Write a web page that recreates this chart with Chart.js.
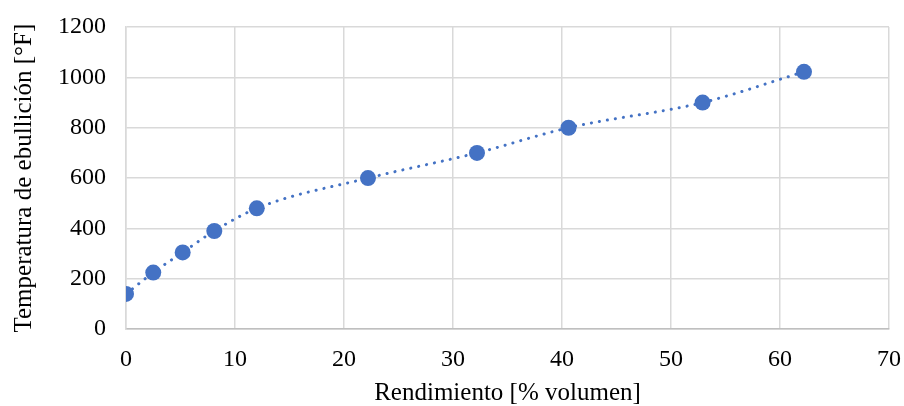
<!DOCTYPE html>
<html>
<head>
<meta charset="utf-8">
<script src="https://cdn.jsdelivr.net/npm/chart.js@4/dist/chart.umd.min.js"></script>
<style>
  html, body { margin: 0; padding: 0; background: #fff; }
  #wrap { width: 904px; height: 406px; }
</style>
</head>
<body>
<div id="wrap"><canvas id="chartRend"></canvas></div>
<script>
// rendimiento [% volumen] vs temperatura de ebullición [°F]
const rendimiento = [0.0, 2.5, 5.2, 8.1, 12.0, 22.2, 32.2, 40.6, 52.9, 62.2];
const temperatura = [140, 225, 305, 390, 480, 600, 700, 800, 900, 1022];
const xTicks = [0, 10, 20, 30, 40, 50, 60, 70];
const yTicks = [0, 200, 400, 600, 800, 1000, 1200];

const points = rendimiento.map((x, i) => ({ x: x, y: temperatura[i] }));
const azul = '#4472c4';
const fuente = 'Liberation Serif, Times New Roman, serif';

const config = {
    type: 'scatter',
    data: {
        datasets: [
            {
                // trendline (dotted)
                data: points,
                showLine: true,
                pointRadius: 0,
                borderColor: azul,
                borderWidth: 3,
                borderDash: [0.1, 8],
                borderCapStyle: 'round',
                cubicInterpolationMode: 'monotone',
                order: 2
            },
            {
                data: points,
                pointRadius: 8,
                pointHoverRadius: 8,
                backgroundColor: azul,
                borderColor: azul,
                borderWidth: 0,
                order: 1
            }
        ]
    },
    options: {
        responsive: true,
        maintainAspectRatio: false,
        animation: false,
        layout: { padding: { left: 0, right: 15, top: 27, bottom: 0 } },
        plugins: { legend: { display: false }, tooltip: { enabled: false } },
        scales: {
            x: {
                min: 0, max: 70,
                afterBuildTicks: s => { s.ticks = xTicks.map(v => ({ value: v })); },
                // invisible tick marks used as spacing between axis and labels
                grid: { color: '#d9d9d9', lineWidth: 1.5, drawTicks: true, tickLength: 16, tickColor: 'rgba(0,0,0,0)' },
                border: { color: '#bfbfbf', width: 1.5 },
                ticks: { color: '#000', font: { family: fuente, size: 24 }, padding: 0, callback: v => String(v) },
                title: { display: true, text: 'Rendimiento [% volumen]', color: '#000', font: { family: fuente, size: 25 }, padding: { top: 4, bottom: -2 } }
            },
            y: {
                min: 0, max: 1200,
                afterBuildTicks: s => { s.ticks = yTicks.map(v => ({ value: v })); },
                grid: { color: '#d9d9d9', lineWidth: 1.5, drawTicks: true, tickLength: 20, tickColor: 'rgba(0,0,0,0)' },
                border: { color: '#d9d9d9', width: 1.5 },
                ticks: { color: '#000', font: { family: fuente, size: 24 }, padding: 0, callback: v => String(v) },
                title: { display: true, text: 'Temperatura de ebullición [°F]', color: '#000', font: { family: fuente, size: 25 }, padding: { top: 9, bottom: 19 } }
            }
        }
    }
};

const canvas = document.getElementById('chartRend');
const chartRend = new Chart(canvas, config);
</script>
</body>
</html>
